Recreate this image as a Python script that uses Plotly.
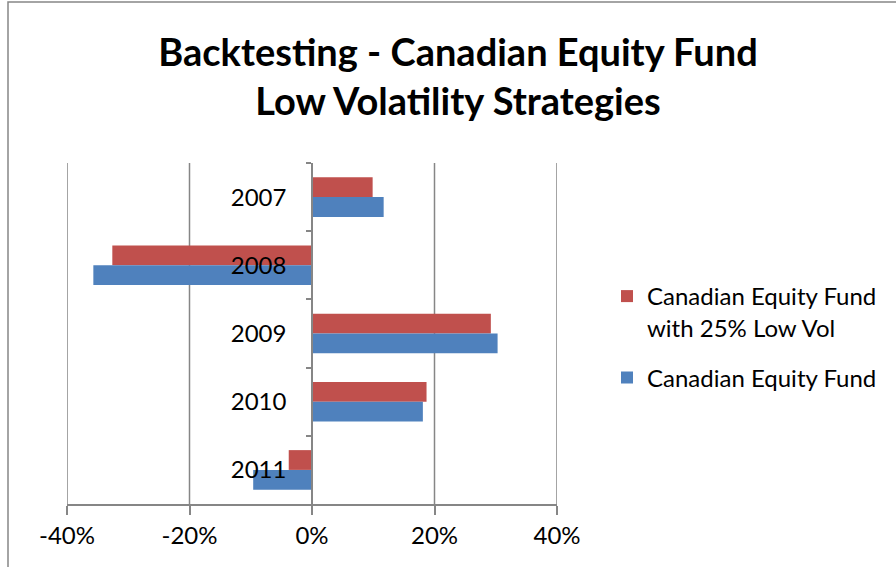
import plotly.graph_objects as go

years = ["2007", "2008", "2009", "2010", "2011"]
low_vol = [0.099, -0.326, 0.292, 0.187, -0.038]
fund = [0.117, -0.357, 0.303, 0.181, -0.096]
series_names = ["Canadian Equity Fund<br>with 25% Low Vol", "Canadian Equity Fund"]
x_ticks = [-0.4, -0.2, 0, 0.2, 0.4]
x_labels = ["-40%", "-20%", "0%", "20%", "40%"]

GRAY = "#868686"
FONT = "Lato, Carlito, Calibri, sans-serif"

fig = go.Figure()
fig.add_trace(go.Bar(y=years, x=low_vol, orientation="h", name=series_names[0],
                     legendgroup="a",
                     marker=dict(color="#C0504D", line=dict(width=0))))
fig.add_trace(go.Bar(y=years, x=fund, orientation="h", name=series_names[1],
                     legendgroup="b",
                     marker=dict(color="#4F81BD", line=dict(width=0))))

W, H = 896, 567
L, R, T, B = 67, 339, 163, 63
pw = W - L - R
ph = H - T - B

fig.update_layout(
    width=W, height=H,
    margin=dict(l=L, r=R, t=T, b=B, autoexpand=False),
    paper_bgcolor="white", plot_bgcolor="white",
    font=dict(family=FONT, size=24, color="black"),
    barmode="group", bargap=0.42, bargroupgap=0,
    title=dict(text="<b>Backtesting - Canadian Equity Fund<br>Low Volatility Strategies</b>",
               x=458 / W, xanchor="center", xref="container",
               y=1 - 66 / H, yanchor="middle", yref="container",
               font=dict(family=FONT, size=38, color="black")),
    xaxis=dict(range=[-0.4, 0.4], tickvals=x_ticks, ticktext=x_labels,
               showgrid=False, zeroline=False,
               showline=True, linecolor=GRAY, linewidth=1.5,
               ticks="outside", ticklen=9, tickcolor=GRAY, tickwidth=1.5,
               tickfont=dict(size=24), automargin=False, fixedrange=True),
    yaxis=dict(type="category", categoryorder="array", categoryarray=years,
               autorange="reversed", anchor="free", position=0.5,
               showline=True, linecolor=GRAY, linewidth=1.5, showgrid=False,
               ticks="outside", ticklen=5, tickcolor=GRAY, tickwidth=1.5,
               tickson="boundaries", ticklabelstandoff=20,
               tickfont=dict(size=24), zeroline=False, automargin=False,
               fixedrange=True),
    legend=dict(x=(607 - L) / pw, xanchor="left", y=(504 - 337) / ph, yanchor="middle",
                font=dict(size=24), traceorder="grouped", tracegroupgap=16,
                valign="top", itemwidth=30, bgcolor="rgba(0,0,0,0)"),
    showlegend=True,
)

# vertical gridlines at the non-zero ticks
for v in x_ticks:
    if v != 0:
        fig.add_shape(type="line", xref="x", yref="paper", x0=v, x1=v, y0=0, y1=1,
                      line=dict(color=GRAY, width=1.5), layer="below")

# chart border
fig.add_shape(type="rect", xref="paper", yref="paper",
              x0=(8 - L) / pw, x1=(900 - L) / pw, y0=(504 - 600) / ph, y1=(504 - 2) / ph,
              line=dict(color=GRAY, width=1.5), fillcolor="rgba(0,0,0,0)", layer="below")

fig.write_html("out.html", config={"displayModeBar": False},
               post_script="document.body.style.margin='0';")
